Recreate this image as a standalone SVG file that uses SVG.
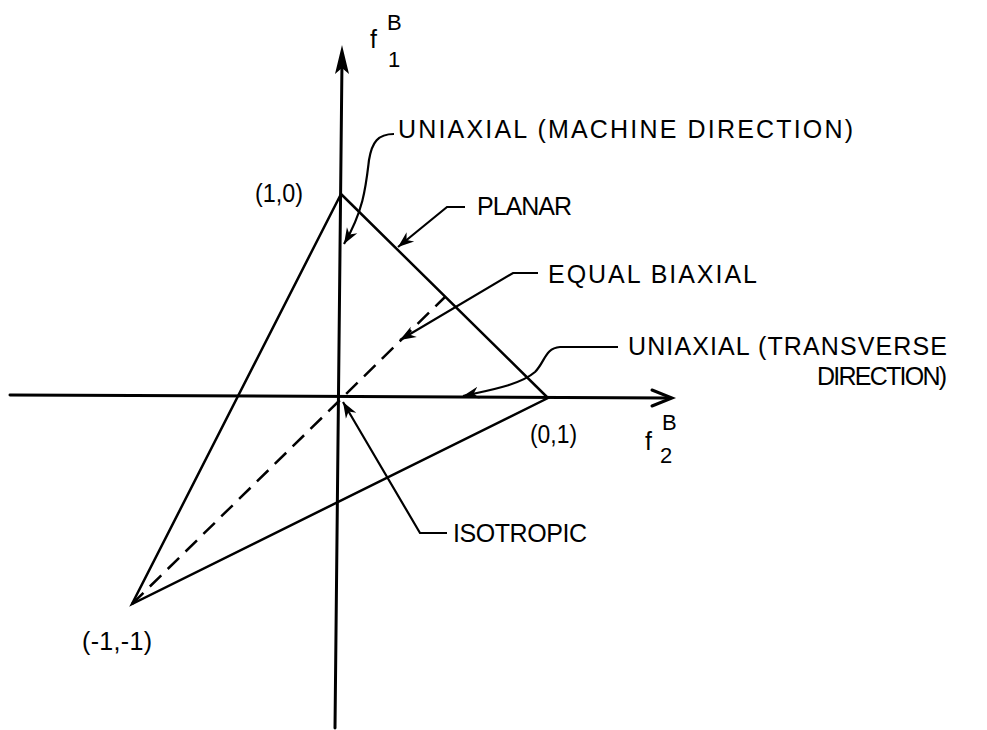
<svg xmlns="http://www.w3.org/2000/svg" width="987" height="730" viewBox="0 0 987 730">
<defs>
<style>
.ax{stroke:#000;stroke-width:3;fill:none;stroke-linecap:round}
.tri{stroke:#000;stroke-width:2.5;fill:none;stroke-linejoin:miter}
.dash{stroke:#000;stroke-width:2.5;fill:none;stroke-dasharray:16 9}
.ld{stroke:#000;stroke-width:2.2;fill:none;marker-end:url(#ah)}
text{font-family:"Liberation Sans",Arial,sans-serif;font-size:25px;fill:#000}
.sm{font-size:22px}
</style>
<marker id="ah" viewBox="-16 -7 18 14" refX="0" refY="0" markerWidth="18" markerHeight="14" markerUnits="userSpaceOnUse" orient="auto">
<path d="M0,0 L-16,-6 L-11,0 L-16,6 Z" fill="#000"/>
</marker>
</defs>
<rect width="987" height="730" fill="#fff"/>
<g id="axes">
<line class="ax" x1="342" y1="60" x2="335" y2="728"/>
<polygon points="342,45 335,74 342,68 349,74" fill="#000"/>
<line class="ax" x1="10" y1="395" x2="670" y2="398"/>
<polyline class="ax" points="652,390 672,398 652,406"/>
</g>
<g id="triangle">
<polygon class="tri" points="341,194 548,398 132,604"/>
</g>
<g id="dashed">
<line class="dash" x1="132" y1="604" x2="445" y2="297"/>
</g>
<g id="connectors">
<path class="ld" d="M394,134 C378,134 372,142 369,160 C366,185 364,210 344,244"/>
<path class="ld" d="M465,207 L447,207 L398,247"/>
<path class="ld" d="M538,273 L513,273 L400,340"/>
<path class="ld" d="M618,347 L560,347 C545,348 545,362 535,372 C520,385 490,390 463,396"/>
<path class="ld" d="M447,533 L420,533 L343,402"/>
</g>
<g id="label-f1">
<text x="370" y="48">f</text>
<text x="387" y="30" class="sm">B</text>
<text x="388" y="67" class="sm">1</text>
</g>
<g id="label-f2">
<text x="645" y="450">f</text>
<text x="662" y="430" class="sm">B</text>
<text x="660" y="463" class="sm">2</text>
</g>
<g id="vertex-10"><text x="255" y="202" textLength="48" lengthAdjust="spacingAndGlyphs">(1,0)</text></g>
<g id="vertex-01"><text x="530" y="443" textLength="47" lengthAdjust="spacingAndGlyphs">(0,1)</text></g>
<g id="vertex-m1m1"><text x="82" y="650" textLength="70" lengthAdjust="spacing">(-1,-1)</text></g>
<g id="label-umd"><text x="398" y="138" textLength="455" lengthAdjust="spacing">UNIAXIAL (MACHINE DIRECTION)</text></g>
<g id="label-planar"><text x="477" y="215" textLength="95" lengthAdjust="spacing">PLANAR</text></g>
<g id="label-eb"><text x="548" y="283" textLength="209" lengthAdjust="spacing">EQUAL  BIAXIAL</text></g>
<g id="label-ut"><text x="628" y="355" textLength="319" lengthAdjust="spacing">UNIAXIAL (TRANSVERSE</text><text x="817" y="385" textLength="130" lengthAdjust="spacing">DIRECTION)</text></g>
<g id="label-iso"><text x="453" y="542" textLength="134" lengthAdjust="spacing">ISOTROPIC</text></g>
</svg>
